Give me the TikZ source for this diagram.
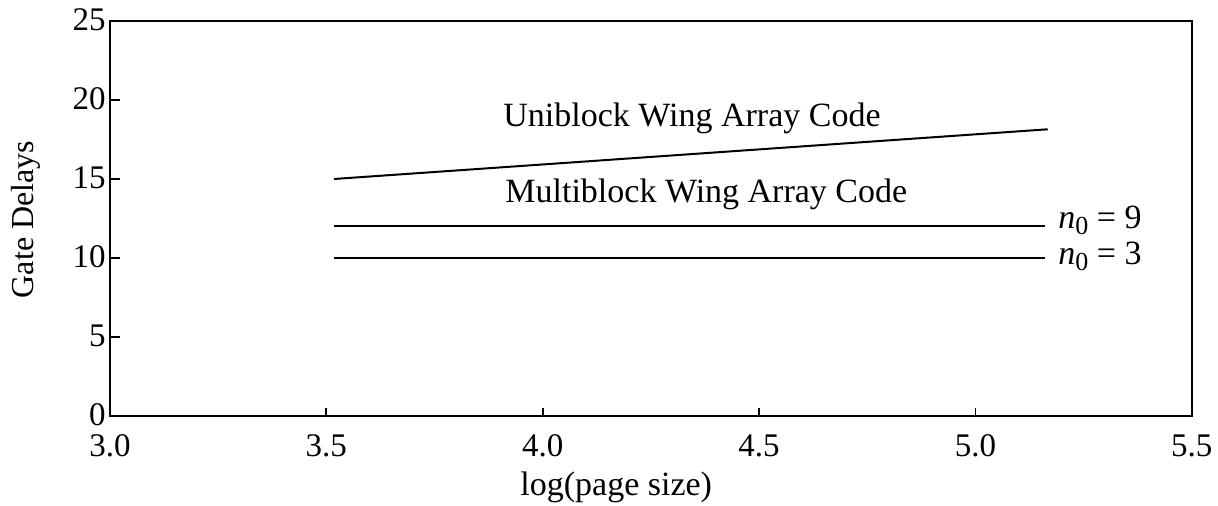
\documentclass[tikz,border=0pt]{standalone}
\usepackage{fontspec}
\setmainfont{Liberation Serif}
\begin{document}
\begin{tikzpicture}[x=0.5pt,y=-0.5pt,
  frame/.style={line width=1pt},
  curve/.style={line width=1pt},
  tick/.style={line width=0.9pt},
  ticklabel/.style={inner sep=0pt,font=\fontsize{16.5}{18}\selectfont},
  txt/.style={inner sep=0pt,font=\fontsize{17}{19}\selectfont},
  ylab/.style={inner sep=0pt,font=\fontsize{16}{18}\selectfont}]
\useasboundingbox (0,0) rectangle (1218,506);
% frame
\coordinate (bl) at (110,416);
\coordinate (tr) at (1191.7,21);
\draw[frame] (bl) rectangle (tr);
% y ticks and labels
\foreach \v/\n in {0/y0,5/y5,10/y10,15/y15,20/y20,25/y25}{
  \coordinate (\n) at (110,{416-\v*15.8});
  \node[ticklabel,anchor=east] (l\n) at ([xshift=-2pt,yshift=0.5pt]\n) {\v};
}
\foreach \n in {y5,y10,y15,y20}{
  \draw[tick] (\n) -- ++(10,0);
}
% x ticks and labels
\foreach \v/\n in {3.0/x30,3.5/x35,4.0/x40,4.5/x45,5.0/x50,5.5/x55}{
  \coordinate (\n) at ({110+(\v-3)*432.7},416);
  \node[ticklabel,anchor=base] (l\n) at ([yshift=-20.5pt]\n) {\v};
}
\foreach \n in {x35,x40,x45,x50}{
  \draw[tick] (\n) -- ++(0,-8);
}
% axis titles
\node[txt,anchor=base west] (xtitle) at (520,495) {log(page size)};
\node[ylab,rotate=90,anchor=base] (ytitle) at (33,219.5) {Gate Delays};
% curves
\coordinate (u1) at (334,179);
\coordinate (u2) at (1047.7,129.3);
\draw[curve] (u1) -- (u2);
\coordinate (m1) at (334,226);
\coordinate (m2) at (1045,226);
\draw[curve] (m1) -- (m2);
\coordinate (t1) at (334,257.7);
\coordinate (t2) at (1045,257.7);
\draw[curve] (t1) -- (t2);
% curve labels
\node[txt,anchor=base west] (uni) at (503,126.5) {Uniblock Wing Array Code};
\node[txt,anchor=base west] (multi) at (505,203) {Multiblock Wing Array Code};
\node[txt,anchor=base east] (n9) at (1142,229) {\textit{n}\raisebox{-3pt}{\fontsize{13}{13}\selectfont 0}\hspace{0.25em}=\hspace{0.25em}9};
\node[txt,anchor=base east] (n3) at (1142,265) {\textit{n}\raisebox{-3pt}{\fontsize{13}{13}\selectfont 0}\hspace{0.25em}=\hspace{0.25em}3};
\end{tikzpicture}
\end{document}
